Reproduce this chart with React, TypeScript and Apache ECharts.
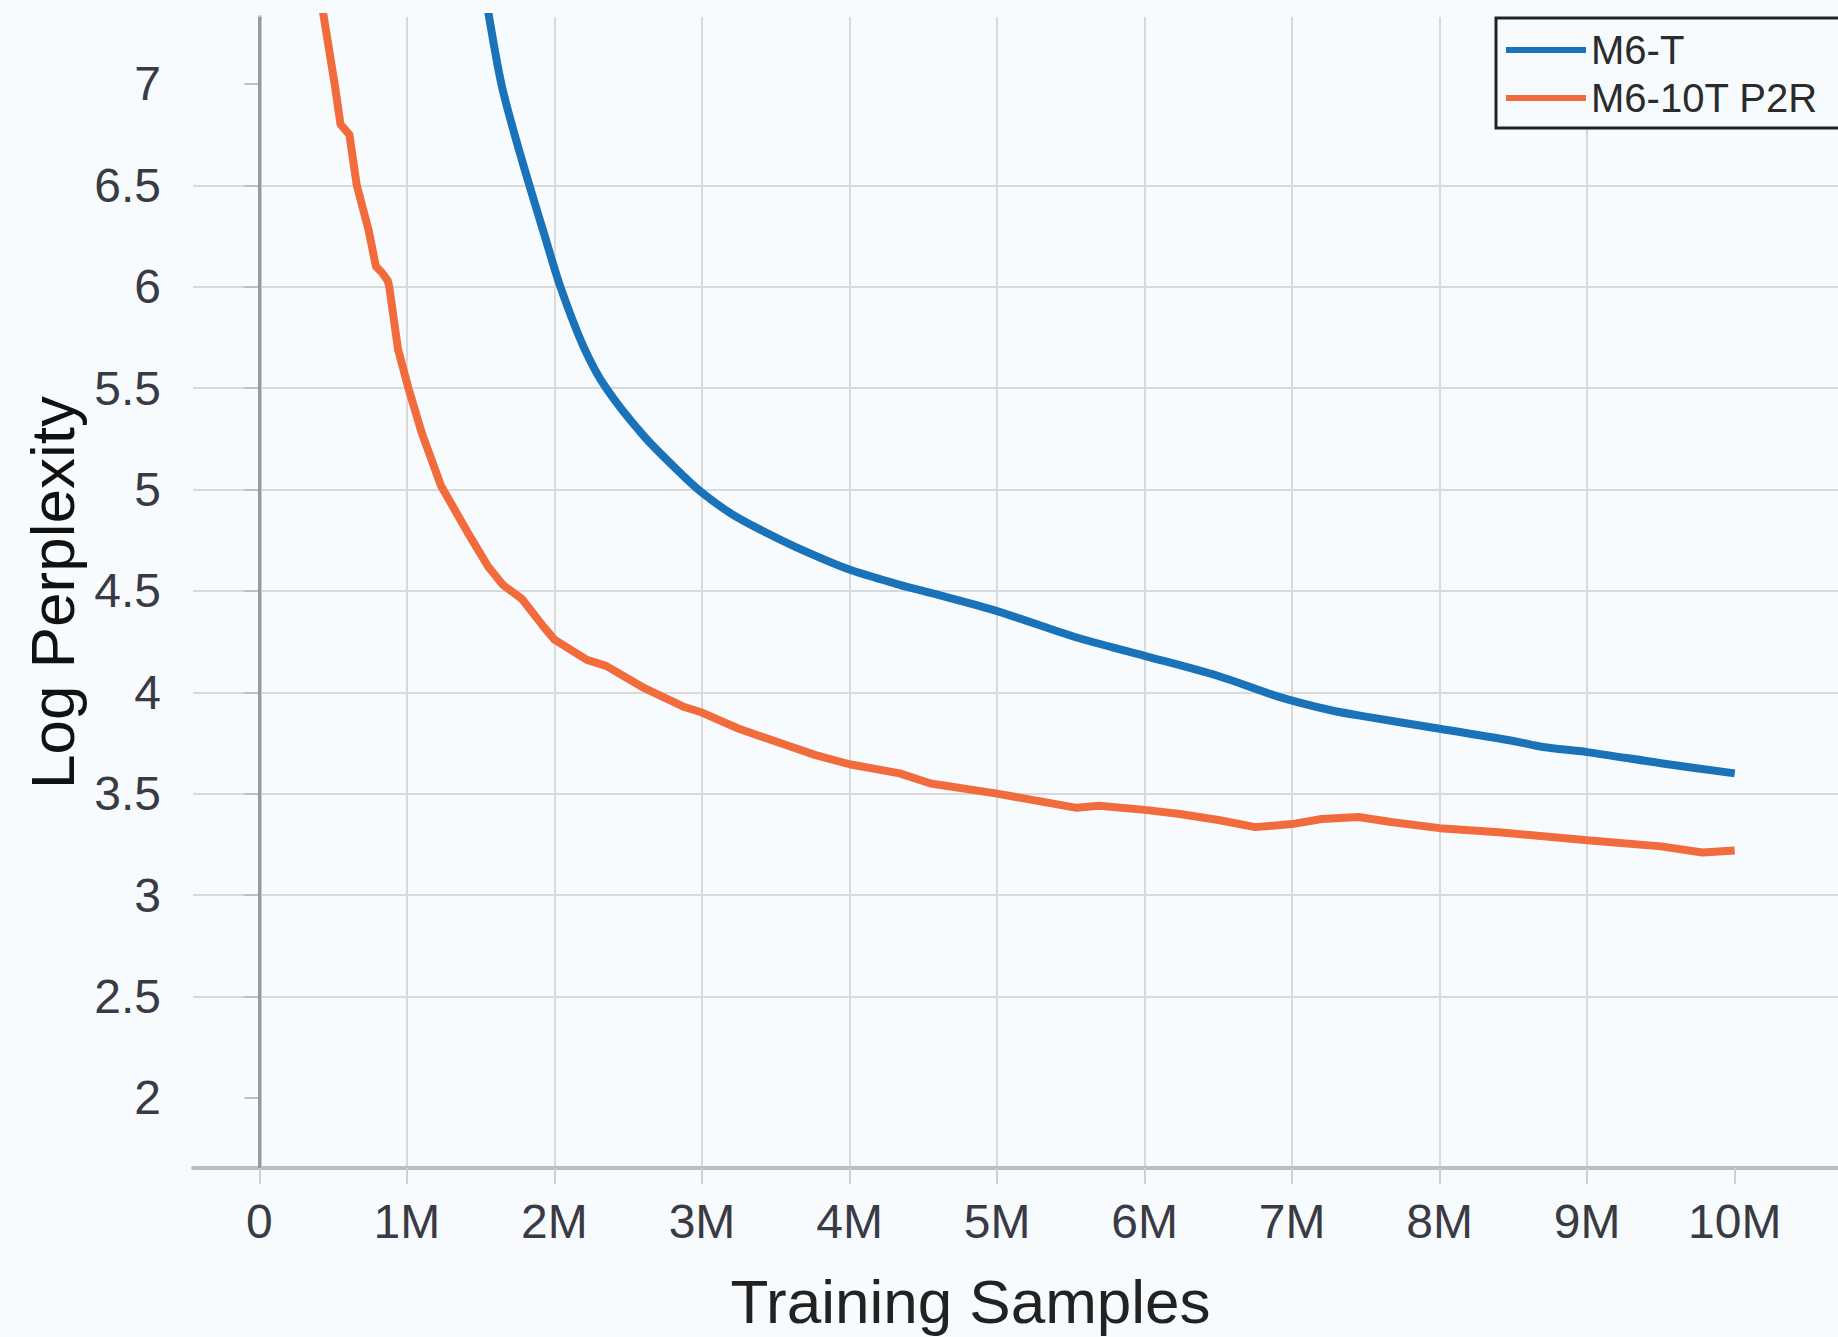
import React, { useEffect, useRef } from "react";
import * as echarts from "echarts";

const seriesNames = ["M6-T", "M6-10T P2R"];

// Training samples in millions, log perplexity
const m6tSamplesM = [
  1.55, 1.64, 1.73, 1.83, 1.93, 2.04, 2.2, 2.35, 2.61, 2.87, 3.0, 3.2, 3.4, 3.64, 4.0,
  4.34, 4.55, 5.0, 5.54, 6.0, 6.5, 6.9, 7.27, 7.5, 8.0, 8.5, 8.7, 9.0, 9.5, 10.0,
];
const m6tLogPpl = [
  7.36, 7.0, 6.75, 6.5, 6.26, 6.0, 5.7, 5.5, 5.26, 5.07, 4.985, 4.88, 4.8, 4.715, 4.605,
  4.53, 4.49, 4.4, 4.27, 4.18, 4.08, 3.98, 3.91, 3.88, 3.82, 3.76, 3.73, 3.705, 3.65, 3.6,
];

const p2rSamplesM = [
  0.43, 0.51, 0.55, 0.61, 0.66, 0.74, 0.79, 0.83, 0.87, 0.88, 0.94, 1.01, 1.1, 1.23, 1.41, 1.55,
  1.65, 1.78, 1.93, 2.0, 2.22, 2.35, 2.61, 2.87, 3.0, 3.25, 3.57, 3.77, 4.0, 4.34, 4.55, 5.0,
  5.54, 5.69, 6.0, 6.24, 6.5, 6.75, 7.0, 7.2, 7.45, 7.67, 8.0, 8.4, 9.0, 9.5, 9.78, 10.0,
];
const p2rLogPpl = [
  7.36, 7.0, 6.8, 6.75, 6.5, 6.28, 6.1, 6.07, 6.03, 6.0, 5.69, 5.5, 5.28, 5.02, 4.79, 4.62,
  4.53, 4.46, 4.32, 4.26, 4.16, 4.13, 4.02, 3.93, 3.9, 3.82, 3.74, 3.69, 3.645, 3.6, 3.55, 3.5,
  3.43, 3.44, 3.42, 3.4, 3.37, 3.335, 3.35, 3.375, 3.385, 3.36, 3.33, 3.31, 3.27, 3.24, 3.21, 3.22,
];

const xTickValues = [0, 1, 2, 3, 4, 5, 6, 7, 8, 9, 10];
const yTickValues = [2, 2.5, 3, 3.5, 4, 4.5, 5, 5.5, 6, 6.5, 7];

const BG = "#f7fbfd";
const FONT = "'Liberation Sans', Arial, sans-serif";

export default function App() {
  const ref = useRef<HTMLDivElement>(null);

  useEffect(() => {
    if (!ref.current) return;
    const chart = echarts.init(ref.current, undefined, { renderer: "svg" });
    const pairs = (xs: number[], ys: number[]) => xs.map((x, i) => [x, ys[i]]);

    chart.setOption({
      animation: false,
      backgroundColor: BG,
      textStyle: { fontFamily: FONT },
      grid: { left: 193, top: 17, right: 0, bottom: 166, containLabel: false },
      legend: {
        data: seriesNames,
        orient: "vertical",
        left: 1496,
        top: 18,
        padding: [12, 40, 10, 10],
        itemGap: 8,
        itemWidth: 80,
        itemHeight: 6,
        icon: "rect",
        borderColor: "#222",
        borderWidth: 3,
        backgroundColor: BG,
        textStyle: { fontSize: 40, color: "#2b2b2b", fontFamily: FONT, lineHeight: 40 },
      },
      xAxis: {
        type: "value",
        min: -0.45,
        max: 10.7,
        minInterval: 1,
        maxInterval: 1,
        splitNumber: 11,
        name: "Training Samples",
        nameLocation: "middle",
        nameGap: 102,
        nameTextStyle: { fontSize: 62, color: "#222", fontFamily: FONT, padding: [0, 90, 0, 0] },
        axisLine: { show: true, onZero: false, lineStyle: { color: "#bdbdbd", width: 4 } },
        axisTick: {
          show: true,
          customValues: xTickValues,
          length: 16,
          lineStyle: { color: "#cfcfcf", width: 2 },
        },
        axisLabel: {
          customValues: xTickValues,
          fontSize: 48,
          color: "#3a3a44",
          margin: 29,
          fontFamily: FONT,
          formatter: (v: number) => {
            if (Math.abs(v - Math.round(v)) > 1e-6) return "";
            return v === 0 ? "0" : `${Math.round(v)}M`;
          },
        },
        splitLine: {
          show: true,
          showMinLine: false,
          showMaxLine: false,
          lineStyle: { color: "#d9d9d9", width: 2 },
        },
      },
      yAxis: {
        type: "value",
        min: 1.654,
        max: 7.33,
        minInterval: 0.5,
        maxInterval: 0.5,
        splitNumber: 11,
        name: "Log Perplexity",
        nameLocation: "middle",
        nameGap: 106,
        nameRotate: 90,
        nameTextStyle: { fontSize: 62, color: "#111", fontFamily: FONT },
        axisLine: { show: true, lineStyle: { color: "#c6c6c6", width: 4 } },
        axisTick: {
          show: true,
          customValues: yTickValues,
          length: 15,
          lineStyle: { color: "#bfbfbf", width: 2 },
        },
        axisLabel: {
          customValues: yTickValues,
          fontSize: 48,
          color: "#3a3a44",
          margin: 32,
          fontFamily: FONT,
          formatter: (v: number) => {
            if (Math.abs(v * 2 - Math.round(v * 2)) > 1e-6) return "";
            return String(v);
          },
        },
        splitLine: {
          show: true,
          showMinLine: false,
          showMaxLine: false,
          lineStyle: { color: "#d9d9d9", width: 2 },
        },
      },
      series: [
        {
          name: seriesNames[0],
          type: "line",
          data: pairs(m6tSamplesM, m6tLogPpl),
          showSymbol: false,
          symbol: "none",
          clip: true,
          smooth: 0.3,
          color: "#1a72b9",
          lineStyle: { color: "#1a72b9", width: 8, cap: "butt", join: "round" },
          markLine: {
            silent: true,
            symbol: ["none", "none"],
            label: { show: false },
            lineStyle: { color: "#999999", width: 3, type: "solid" },
            data: [{ xAxis: 0 }],
          },
        },
        {
          name: seriesNames[1],
          type: "line",
          data: pairs(p2rSamplesM, p2rLogPpl),
          showSymbol: false,
          symbol: "none",
          clip: true,
          color: "#f26b3c",
          lineStyle: { color: "#f26b3c", width: 8, cap: "butt", join: "round" },
        },
      ],
    });

    return () => chart.dispose();
  }, []);

  return (
    <div
      style={{
        position: "absolute",
        left: 0,
        top: 0,
        width: 1838,
        height: 1337,
        overflow: "hidden",
        background: BG,
      }}
    >
      <div ref={ref} style={{ width: 1838, height: 1337 }} />
    </div>
  );
}
